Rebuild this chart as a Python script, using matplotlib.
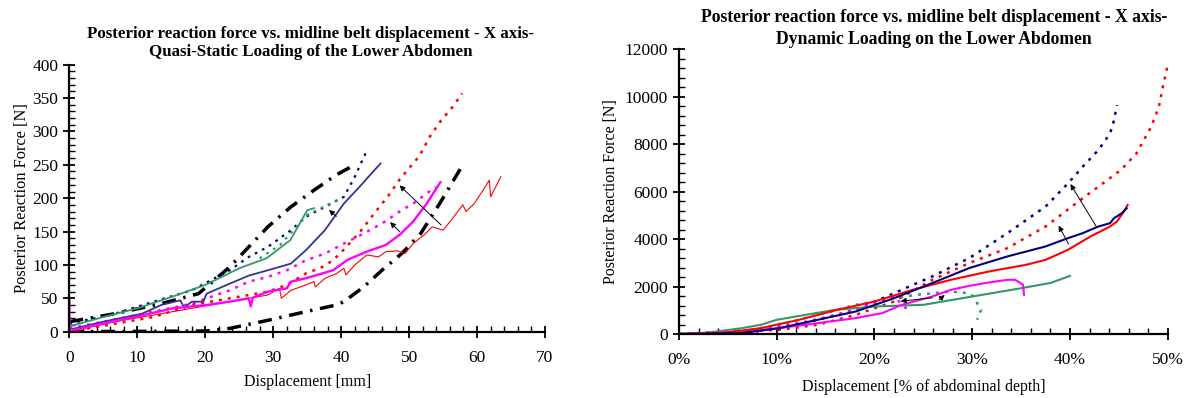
import matplotlib
matplotlib.use("Agg")
import matplotlib.pyplot as plt
from matplotlib.ticker import MultipleLocator, PercentFormatter

plt.rcParams['font.family'] = ['Liberation Serif', 'DejaVu Serif']

# ---- Quasi-static loading (displacement in mm, force in N) ----
qs_black_hi_x = [0, 6.7, 13.5, 19, 23.6, 26.4, 29.2, 32.6, 36, 39.3, 42]
qs_black_hi_y = [15, 27, 42, 57, 97, 127, 157, 187, 212, 235, 250]
qs_black_lo_x = [0, 20, 23.6, 29.2, 34.8, 39.3, 40.4, 43.3, 46, 48.9, 51.7, 54.5, 57.9]
qs_black_lo_y = [0, 1, 5, 17, 30, 40, 45, 67, 92, 117, 147, 192, 250]

qs_navy_dot_x = [0, 6.7, 12.4, 18, 23.6, 26.4, 29.2, 32.6, 34.8, 37.6, 40.4, 42, 43.8]
qs_navy_dot_y = [12, 27, 45, 62, 92, 112, 127, 152, 172, 187, 202, 232, 272]
qs_blue_x = [0, 5, 10.7, 13.5, 16.3, 16.9, 18, 19.7, 20.2, 23.6, 26.4, 29.2, 32.6,
             34.8, 37.6, 40.4, 42.7, 44.9, 45.8]
qs_blue_y = [3, 15, 27, 40, 47, 36, 45, 45, 57, 72, 84, 92, 102,
             122, 152, 192, 217, 242, 252]

qs_green_x = [0, 5, 10, 15, 20, 25, 29, 32.5, 35, 36]
qs_green_y = [8, 22, 35, 52, 70, 95, 110, 137, 182, 185]
qs_green_dot_x = [28, 31, 33, 35, 37, 40]
qs_green_dot_y = [110, 130, 152, 175, 185, 200]

qs_mag_x = [0, 0, 0.3, 3.9, 9.6, 15.2, 20.2, 23.6, 26.4, 26.7, 27, 29.2, 32, 32.6,
            34.8, 38.8, 41, 43.8, 46.6, 48.7, 50.6, 52.6, 54.6]
qs_mag_y = [47, 0, 2, 10, 22, 35, 40, 45, 50, 38, 51, 60, 65, 75,
            80, 92, 108, 120, 130, 146, 165, 192, 224]
qs_mag_dot_x = [0, 10, 18, 20.2, 23.6, 26.4, 29.2, 32, 34.8, 37.6, 40.4, 43.3,
                46, 48.9, 50.6, 53.9]
qs_mag_dot_y = [5, 25, 42, 50, 62, 75, 82, 92, 107, 117, 132, 147,
                162, 182, 192, 217]

qs_red_x = [0, 6.7, 12.4, 18, 23.6, 29.2, 30.9, 31.2, 32.6, 34.8, 36, 36.2, 37.6,
            39.3, 40.4, 40.7, 42, 43.8, 45.5, 46.6, 48.3, 49.4, 50.6, 52.2, 53.4,
            55, 56.2, 57.9, 58.4, 59.6, 61.2, 61.8, 62, 62.9, 63.5]
qs_red_y = [0, 15, 25, 35, 45, 55, 65, 50, 62, 70, 75, 67, 80,
            87, 95, 85, 100, 115, 112, 120, 121, 117, 132, 145, 157,
            152, 167, 190, 180, 192, 217, 227, 202, 220, 232]
qs_red_dot_x = [0, 6.7, 12.4, 18, 23.6, 29.2, 32, 34.9, 36.9, 38.8, 40.3, 42.8, 43.8,
                45.4, 46.9, 48.6, 51.5, 53.1, 54.6, 56.5, 57.8]
qs_red_dot_y = [0, 12, 22, 40, 50, 60, 70, 88, 95, 107, 122, 150, 163,
                184, 203, 228, 263, 293, 315, 338, 357]

qs_arrows = [((39.6, 170), (37.9, 185)), ((48.9, 147), (46.9, 167)), ((55, 157), (48.3, 222))]

# ---- Dynamic loading (displacement in % of abdominal depth, force in N) ----
dy_navy_dot_x = [0, 6.5, 10, 14.2, 18.1, 22, 25.9, 29.7, 33.6, 37.5, 39.8, 41.3, 42.9, 44.1, 44.5, 44.8]
dy_navy_dot_y = [0, 110, 250, 600, 1020, 1720, 2425, 3200, 4250, 5370, 6350, 7050, 7750, 8450, 9000, 9650]
dy_red_dot_x = [0, 10.3, 14.2, 18.1, 22, 25.9, 29.7, 33.6, 37.5, 41.3, 45.2, 46.8, 48.3, 49.1, 49.5, 50]
dy_red_dot_y = [0, 180, 390, 810, 1370, 2280, 2990, 3620, 4530, 5720, 6910, 7610, 8730, 9580, 10420, 11330]
dy_navy_x = [0, 6.5, 10.3, 14.2, 18.1, 22, 25.9, 29.7, 33.6, 37.5, 39.8, 41.3, 42.9, 44.1, 44.5, 45.3, 45.8]
dy_navy_y = [0, 40, 250, 600, 950, 1510, 2145, 2780, 3270, 3690, 4040, 4250, 4530, 4670, 4880, 5090, 5300]
dy_red_x = [0, 4.5, 8.4, 12.3, 16.2, 20, 23.9, 27.8, 31.7, 35.5, 37.5, 39.8, 42.1, 44.1, 44.8, 45.4, 45.9]
dy_red_y = [0, 40, 250, 600, 1020, 1370, 1860, 2285, 2635, 2915, 3125, 3550, 4110, 4530, 4740, 5090, 5440]
dy_green_x = [0, 2.6, 6.5, 8.4, 10, 13, 16, 20, 25, 27, 30, 35, 38, 40]
dy_green_y = [0, 40, 250, 390, 600, 810, 1020, 1160, 1230, 1370, 1580, 1930, 2150, 2450]
dy_mag_x = [0, 6.5, 10.3, 14.2, 18.1, 20.8, 22.8, 25.9, 27.8, 29.7, 31.7, 33.6, 34.4, 35.2, 35.3]
dy_mag_y = [0, 110, 250, 460, 670, 880, 1230, 1580, 1860, 2030, 2170, 2285, 2285, 2075, 1650]
dy_green_dot_x = [0, 6.5, 10.3, 14.2, 18.1, 22, 24.3, 27.8, 29.7, 30.1, 30.9, 30.5]
dy_green_dot_y = [0, 110, 390, 810, 1230, 1510, 1650, 1790, 1720, 1580, 1020, 600]
dy_mag_dot_x = [0, 4.5, 8.4, 12.3, 16.2, 20, 22, 23.2, 23.3]
dy_mag_dot_y = [0, 40, 180, 460, 810, 1300, 1580, 1100, 800]

dy_arrows = [((42.9, 4390), (39.9, 6420)), ((40, 3690), (38.7, 4670)),
             ((26.4, 1370), (27.4, 1720)), ((26.2, 1540), (22.4, 1370))]

NAVY = '#000080'
BLUE = '#333399'
GREEN = '#339966'
MAG = '#FF00FF'
RED = '#FF0000'
dot = (0, (1.2, 2.4))
dashdot = (0, (4, 2.2, 0.7, 2.2))

fig = plt.figure(figsize=(11.85, 3.98), dpi=100)
ax1 = fig.add_axes([0.0586, 0.1666, 0.4013, 0.6709])
ax2 = fig.add_axes([0.573, 0.1608, 0.4124, 0.7153])

# left panel
ax1.plot(qs_black_hi_x, qs_black_hi_y, color='black', lw=2.5, ls=dashdot)
ax1.plot(qs_black_lo_x, qs_black_lo_y, color='black', lw=2.5, ls=dashdot)
ax1.plot(qs_navy_dot_x, qs_navy_dot_y, color=NAVY, lw=1.6, ls=dot)
ax1.plot(qs_green_dot_x, qs_green_dot_y, color=GREEN, lw=1.6, ls=dot)
ax1.plot(qs_mag_dot_x, qs_mag_dot_y, color=MAG, lw=1.8, ls=dot)
ax1.plot(qs_red_dot_x, qs_red_dot_y, color=RED, lw=1.8, ls=dot)
ax1.plot(qs_green_x, qs_green_y, color=GREEN, lw=1.3)
ax1.plot(qs_blue_x, qs_blue_y, color=BLUE, lw=1.3)
ax1.plot(qs_red_x, qs_red_y, color=RED, lw=0.8)
ax1.plot(qs_mag_x, qs_mag_y, color=MAG, lw=1.7)
for tail, head in qs_arrows:
    ax1.annotate('', xy=head, xytext=tail,
                 arrowprops=dict(arrowstyle='-|>', color='black', lw=0.7, mutation_scale=8))

ax1.set_xlim(0, 70)
ax1.set_ylim(0, 400)
ax1.xaxis.set_major_locator(MultipleLocator(10))
ax1.xaxis.set_minor_locator(MultipleLocator(2))
ax1.yaxis.set_major_locator(MultipleLocator(50))
ax1.yaxis.set_minor_locator(MultipleLocator(10))
ax1.set_xlabel('Displacement [mm]', fontsize=11.5, labelpad=6)
ax1.set_ylabel('Posterior Reaction Force [N]', fontsize=11.8, labelpad=2)

# right panel
ax2.plot(dy_navy_dot_x, dy_navy_dot_y, color=NAVY, lw=1.8, ls=dot)
ax2.plot(dy_red_dot_x, dy_red_dot_y, color=RED, lw=1.8, ls=dot)
ax2.plot(dy_green_dot_x, dy_green_dot_y, color=GREEN, lw=1.8, ls=dot)
ax2.plot(dy_mag_dot_x, dy_mag_dot_y, color=MAG, lw=1.8, ls=dot)
ax2.plot(dy_green_x, dy_green_y, color=GREEN, lw=1.5)
ax2.plot(dy_mag_x, dy_mag_y, color=MAG, lw=1.5)
ax2.plot(dy_red_x, dy_red_y, color=RED, lw=1.5)
ax2.plot(dy_navy_x, dy_navy_y, color=NAVY, lw=1.5)
for tail, head in dy_arrows:
    ax2.annotate('', xy=head, xytext=tail,
                 arrowprops=dict(arrowstyle='-|>', color='black', lw=0.7, mutation_scale=8))

ax2.set_xlim(0, 50)
ax2.set_ylim(0, 12000)
ax2.xaxis.set_major_locator(MultipleLocator(10))
ax2.xaxis.set_minor_locator(MultipleLocator(2))
ax2.xaxis.set_major_formatter(PercentFormatter(xmax=100, decimals=0))
ax2.yaxis.set_major_locator(MultipleLocator(2000))
ax2.yaxis.set_minor_locator(MultipleLocator(400))
ax2.set_xlabel('Displacement [% of abdominal depth]', fontsize=11.5, labelpad=8)
ax2.set_ylabel('Posterior Reaction Force [N]', fontsize=11.5, labelpad=4)

for ax in (ax1, ax2):
    for s in ('top', 'right'):
        ax.spines[s].set_visible(False)
    for s in ('left', 'bottom'):
        ax.spines[s].set_linewidth(1.6)
    ax.tick_params(which='major', direction='inout', length=8, width=1.3, labelsize=12.5)
    ax.tick_params(axis='x', which='major', pad=9)
    ax.tick_params(axis='y', which='major', pad=4)
    ax.tick_params(which='minor', direction='in', length=4, width=1.0)

fig.text(0.262, 0.892, 'Posterior reaction force vs. midline belt displacement - X axis-\n'
         'Quasi-Static Loading of the Lower Abdomen',
         ha='center', va='center', fontsize=12.2, fontweight='bold', linespacing=1.18)
fig.text(0.788, 0.928, 'Posterior reaction force vs. midline belt displacement - X axis-\n'
         'Dynamic Loading on the Lower Abdomen',
         ha='center', va='center', fontsize=12.7, fontweight='bold', linespacing=1.4)

fig.savefig('out.png', dpi=100)
